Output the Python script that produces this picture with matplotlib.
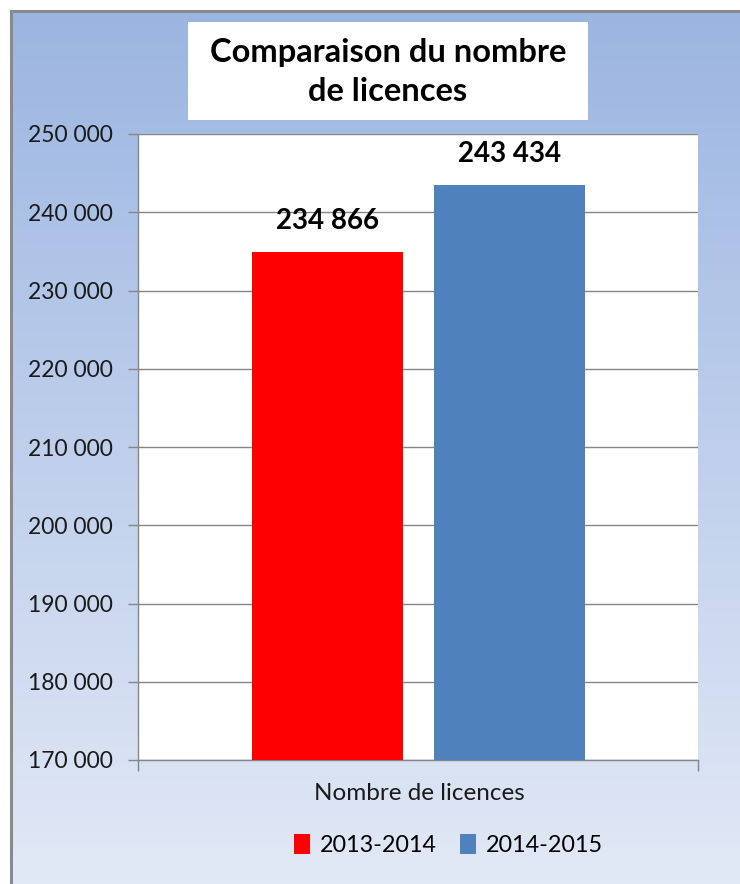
import numpy as np
import matplotlib
matplotlib.use("Agg")
import matplotlib.pyplot as plt
from matplotlib.patches import Rectangle, Patch
from matplotlib.ticker import FuncFormatter

# data
seasons = ["2013-2014", "2014-2015"]
licences = [234866, 243434]
bar_colors = ["#ff0000", "#4f81bd"]
category = "Nombre de licences"
title = "Comparaison du nombre\nde licences"
y_ticks = [170000, 180000, 190000, 200000, 210000, 220000, 230000, 240000, 250000]

W, H = 740, 884
plt.rcParams["font.family"] = ["Lato", "DejaVu Sans"]


def fx(px):
    return px / W


def fy(py):
    return 1 - py / H


def space_thousands(v, _pos=None):
    return f"{int(round(v)):,}".replace(",", " ")


fig = plt.figure(figsize=(W / 100, H / 100), dpi=100)
fig.patch.set_facecolor("white")

# chart area: vertical blue gradient with grey frame
bg = fig.add_axes([fx(10), 0, 1 - fx(10), fy(10)])
grad = np.linspace(0, 1, 256)[:, None]
top, bot = np.array([0x9b, 0xb5, 0xe1]) / 255, np.array([0xe2, 0xe9, 0xf6]) / 255
img = top[None, None, :] * (1 - grad[:, :, None]) + bot[None, None, :] * grad[:, :, None]
bg.imshow(img, aspect="auto", extent=[0, 1, 0, 1], origin="upper")
bg.set_axis_off()
fig.add_artist(plt.Line2D([fx(11), 1], [fy(10.5), fy(10.5)], color="#8a8a8a", lw=2.2))
fig.add_artist(plt.Line2D([fx(11), fx(11)], [0, fy(10.5)], color="#8a8a8a", lw=2.2))

# title box
fig.add_artist(Rectangle((fx(188), fy(120)), fx(588) - fx(188), fy(22) - fy(120),
                         transform=fig.transFigure, facecolor="white", edgecolor="none"))
fig.text(fx(388), fy(72), title, ha="center", va="center", fontsize=23.5,
         fontweight="bold", color="black", linespacing=1.4)

ax = fig.add_axes([fx(138), fy(760), fx(698) - fx(138), fy(134) - fy(760)])
ax.set_facecolor("white")
xs = [-0.162, 0.163]
bars = ax.bar(xs, licences, width=0.27, color=bar_colors, zorder=3)
ax.set_ylim(170000, 250000)
ax.set_xlim(-0.5, 0.5)
ax.set_yticks(y_ticks)
ax.yaxis.set_major_formatter(FuncFormatter(space_thousands))
ax.grid(axis="y", color="#868686", lw=1, zorder=0)
ax.set_xticks([-0.5, 0.5])
ax.set_xticklabels(["", ""])
ax.tick_params(axis="x", length=8, width=1, color="#868686")
ax.tick_params(axis="y", length=7, width=1, color="#868686", labelsize=16.5,
               labelcolor="#1a1a1a", pad=11)
for side in ["top", "right"]:
    ax.spines[side].set_visible(False)
for side in ["left", "bottom"]:
    ax.spines[side].set_color("#868686")
    ax.spines[side].set_linewidth(1)

for b, v in zip(bars, licences):
    ax.annotate(space_thousands(v), (b.get_x() + b.get_width() / 2, v),
                xytext=(0, 18), textcoords="offset pixels", ha="center", va="bottom",
                fontsize=20, fontweight="bold", color="black")

fig.text(fx(419.5), fy(794), category, ha="center", va="center", fontsize=17.5, color="#1a1a1a")

handles = [Patch(facecolor=c, edgecolor="none") for c in bar_colors]
fig.legend(handles, seasons, loc="center", bbox_to_anchor=(fx(448.5), fy(845)), ncol=2,
           frameon=False, fontsize=16.8, handlelength=0.7, handleheight=0.9,
           handletextpad=0.4, columnspacing=1.0)

fig.savefig("out.png", dpi=100)
